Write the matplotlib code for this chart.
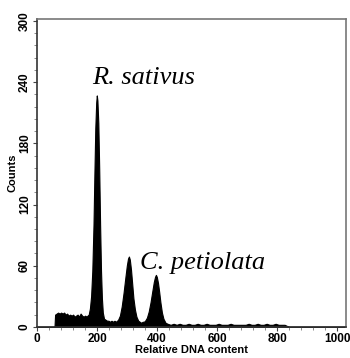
import matplotlib
matplotlib.use('Agg')
import matplotlib.pyplot as plt
from matplotlib.ticker import MultipleLocator

# relative DNA content (channel) and counts
channel = [0, 58, 60, 65, 70, 75, 80, 85, 90, 95, 100, 105, 110, 115, 120, 125, 130,
           135, 140, 145, 150, 155, 160, 165, 168, 172, 176, 180, 184, 188, 191, 194,
           197, 199, 201, 204, 207, 210, 213, 216, 219, 223, 228, 233, 238, 243, 248,
           253, 258, 263, 270, 276, 282, 288, 294, 299, 303, 306, 309, 313, 317, 321,
           326, 331, 337, 342, 347, 352, 356, 360, 366, 372, 378, 384, 389, 393, 396,
           399, 403, 407, 411, 416, 421, 428, 435, 445, 455, 465, 475, 485, 495, 505,
           515, 525, 535, 545, 555, 565, 575, 585, 595, 605, 615, 625, 635, 645, 655,
           665, 675, 685, 695, 705, 715, 725, 735, 745, 755, 765, 775, 785, 795, 805,
           815, 825, 832, 840, 1024]
counts = [0, 0, 12, 13, 14, 13, 14, 13, 14, 12, 13, 11, 12, 11, 12, 10, 11,
          12, 10, 13, 11, 10, 11, 10, 11, 12, 18, 30, 55, 100, 150, 195,
          220, 227, 222, 200, 155, 100, 55, 28, 14, 8, 7, 6, 6, 5, 6,
          5, 6, 5, 7, 11, 20, 33, 48, 60, 67, 69, 66, 56, 42, 28,
          17, 10, 6, 5, 4, 5, 5, 6, 9, 15, 24, 35, 44, 49, 51,
          49, 43, 34, 24, 14, 8, 4, 3, 2, 3, 2, 3, 2, 2, 3,
          2, 2, 3, 2, 2, 3, 2, 2, 2, 3, 2, 2, 2, 3, 2,
          2, 2, 2, 2, 3, 2, 2, 3, 2, 2, 3, 2, 2, 3, 2,
          2, 2, 1, 0, 0]

labels = ['R. sativus', 'C. petiolata']
label_x = [185, 342]
label_y = [238, 57]

fig = plt.figure(figsize=(3.5, 3.58), dpi=100)
ax = fig.add_axes([0.106, 0.087, 0.883, 0.86])

ax.fill_between(channel, counts, color='black', linewidth=0.8, edgecolor='black')

ax.set_xlim(0, 1030)
ax.set_ylim(0, 302)
ax.xaxis.set_major_locator(MultipleLocator(200))
ax.xaxis.set_minor_locator(MultipleLocator(40))
ax.yaxis.set_major_locator(MultipleLocator(60))
ax.yaxis.set_minor_locator(MultipleLocator(12))

ax.tick_params(which='major', length=3, width=0.8, color='#444444',
               labelsize=8.5, pad=1.5)
ax.tick_params(which='minor', length=2, width=0.6, color='#777777')
for t in ax.get_xticklabels() + ax.get_yticklabels():
    t.set_fontweight('bold')
    t.set_family('Liberation Sans')
for t in ax.get_yticklabels():
    t.set_rotation(90)
    t.set_va('center')

for s in ax.spines.values():
    s.set_color('#777777')
    s.set_linewidth(1.2)
ax.spines['left'].set_color('#333333')
ax.spines['bottom'].set_color('#333333')

ax.set_xlabel('Relative DNA content', fontsize=8, fontweight='bold',
              family='Liberation Sans', labelpad=0)
ax.set_ylabel('Counts', fontsize=8, fontweight='bold',
              family='Liberation Sans', labelpad=1)

for name, x, y in zip(labels, label_x, label_y):
    ax.text(x, y, name, fontsize=19, style='italic', family='Liberation Serif',
            ha='left', va='baseline')

fig.savefig('out.png', dpi=100)
